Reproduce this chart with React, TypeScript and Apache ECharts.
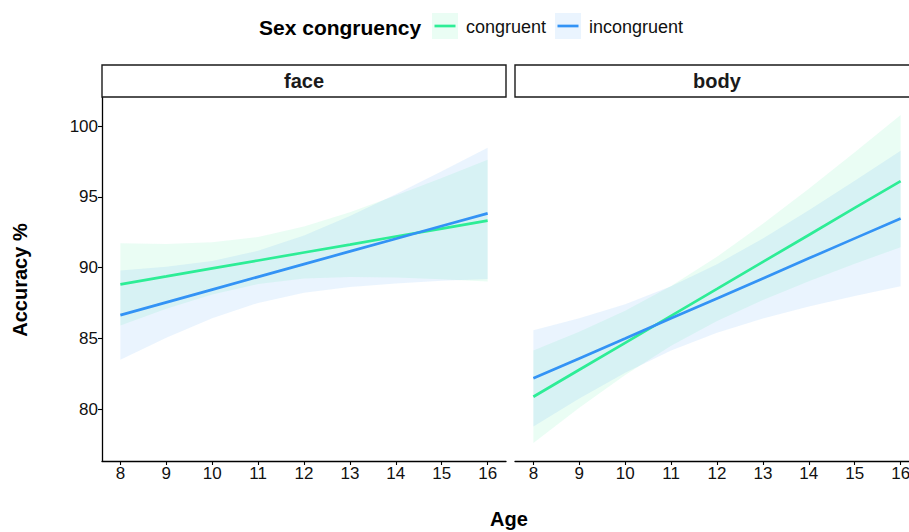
import React, { useEffect, useRef } from "react";
import * as echarts from "echarts";

// ---- data ----
const ages = [8, 9, 10, 11, 12, 13, 14, 15, 16];
const xTicks = [8, 9, 10, 11, 12, 13, 14, 15, 16];
const yTicks = [80, 85, 90, 95, 100];
const groups = ["congruent", "incongruent"];
const panels = ["face", "body"];

// face panel
const faceCongruentFit = [88.81, 89.37, 89.94, 90.5, 91.06, 91.62, 92.19, 92.75, 93.31];
const faceCongruentHi = [91.71, 91.66, 91.78, 92.16, 92.9, 93.91, 95.09, 96.33, 97.61];
const faceCongruentLo = [85.91, 87.08, 88.1, 88.84, 89.22, 89.33, 89.29, 89.17, 89.01];
const faceIncongruentFit = [86.64, 87.54, 88.44, 89.34, 90.24, 91.14, 92.03, 92.93, 93.83];
const faceIncongruentHi = [89.79, 90.05, 90.47, 91.18, 92.27, 93.65, 95.18, 96.8, 98.47];
const faceIncongruentLo = [83.49, 85.03, 86.41, 87.5, 88.21, 88.63, 88.88, 89.06, 89.19];

// body panel
const bodyCongruentFit = [80.87, 82.78, 84.68, 86.59, 88.49, 90.4, 92.3, 94.21, 96.11];
const bodyCongruentHi = [84.14, 85.47, 86.95, 88.7, 90.76, 93.09, 95.57, 98.15, 100.78];
const bodyCongruentLo = [77.6, 80.09, 82.41, 84.48, 86.22, 87.71, 89.03, 90.27, 91.44];
const bodyIncongruentFit = [82.17, 83.58, 84.99, 86.41, 87.82, 89.23, 90.65, 92.06, 93.47];
const bodyIncongruentHi = [85.57, 86.41, 87.41, 88.68, 90.24, 92.06, 94.05, 96.13, 98.26];
const bodyIncongruentLo = [78.77, 80.75, 82.57, 84.14, 85.4, 86.4, 87.25, 87.99, 88.68];

// ---- styles ----
const FONT = "'Liberation Sans', Arial, Helvetica, sans-serif";
const GREEN = "#2DED96";
const BLUE = "#3393F5";
const GREEN_FILL = "rgba(45,237,150,0.1)";
const BLUE_FILL = "rgba(51,147,245,0.1)";
const AXIS = "#000000";

const X_MIN = 7.6;
const X_MAX = 16.4;
const Y_MIN = 76.33;
const Y_MAX = 102.05;

const GRID_TOP = 97;
const GRID_H = 364;
const GRID_W = 404;
const GRID_LEFTS = [102, 515];

function ribbon(gridIdx: number, lo: number[], hi: number[], fill: string) {
  return {
    type: "custom",
    xAxisIndex: gridIdx,
    yAxisIndex: gridIdx,
    silent: true,
    z: 1,
    data: ages.map((a, i) => [a, lo[i], hi[i]]),
    encode: { x: 0, y: [1, 2] },
    renderItem: (params: any, api: any) => {
      if (params.dataIndex !== 0) return { type: "group", children: [] };
      const top = ages.map((a, i) => api.coord([a, hi[i]]));
      const bot = ages.map((a, i) => api.coord([a, lo[i]])).reverse();
      return {
        type: "polygon",
        shape: { points: [...top, ...bot] },
        style: { fill, stroke: "none" },
      };
    },
  };
}

function fitLine(gridIdx: number, name: string, fit: number[], color: string) {
  return {
    type: "line",
    name,
    xAxisIndex: gridIdx,
    yAxisIndex: gridIdx,
    data: ages.map((a, i) => [a, fit[i]]),
    symbol: "none",
    z: 3,
    lineStyle: { color, width: 2.7 },
    itemStyle: { color },
  };
}

export default function App() {
  const ref = useRef<HTMLDivElement>(null);

  useEffect(() => {
    if (!ref.current) return;
    const chart = echarts.init(ref.current, null, { renderer: "svg" });

    const xAxes = GRID_LEFTS.map((_, g) => ({
      type: "value",
      gridIndex: g,
      min: X_MIN,
      max: X_MAX,
      axisLine: { show: true, lineStyle: { color: AXIS, width: 1.3 } },
      axisTick: {
        show: true,
        length: 4,
        lineStyle: { color: AXIS, width: 1.1 },
        customValues: xTicks,
      },
      axisLabel: {
        show: true,
        color: "#111",
        fontSize: 17,
        fontFamily: FONT,
        margin: 4,
        customValues: xTicks,
      },
      splitLine: { show: false },
    }));

    const yAxes = GRID_LEFTS.map((_, g) => ({
      type: "value",
      gridIndex: g,
      min: Y_MIN,
      max: Y_MAX,
      axisLine: { show: g === 0, lineStyle: { color: AXIS, width: 1.3 } },
      axisTick: {
        show: g === 0,
        length: 4,
        lineStyle: { color: AXIS, width: 1.1 },
        customValues: yTicks,
      },
      axisLabel: {
        show: g === 0,
        color: "#111",
        fontSize: 17,
        fontFamily: FONT,
        margin: 4,
        customValues: yTicks,
      },
      splitLine: { show: false },
    }));

    const stripGraphics: any[] = [];
    panels.forEach((p, g) => {
      stripGraphics.push({
        type: "rect",
        shape: { x: GRID_LEFTS[g], y: 65, width: GRID_W, height: 32 },
        style: { fill: "#ffffff", stroke: "#1a1a1a", lineWidth: 1.4 },
        z: 10,
      });
      stripGraphics.push({
        type: "text",
        x: GRID_LEFTS[g] + GRID_W / 2,
        y: 81,
        style: {
          text: p,
          fontSize: 20,
          fontWeight: "bold",
          fontFamily: FONT,
          fill: "#1a1a1a",
          align: "center",
          verticalAlign: "middle",
        },
        z: 11,
      });
    });

    const legendGraphics: any[] = [
      {
        type: "text",
        x: 259,
        y: 27,
        style: {
          text: "Sex congruency",
          fontSize: 21,
          fontWeight: "bold",
          fontFamily: FONT,
          fill: "#000",
          verticalAlign: "middle",
        },
      },
    ];
    const keyXs = [432, 555];
    const labelXs = [466, 589];
    const keyColors = [GREEN, BLUE];
    const keyFills = [GREEN_FILL, BLUE_FILL];
    groups.forEach((gname, i) => {
      legendGraphics.push({
        type: "rect",
        shape: { x: keyXs[i], y: 13, width: 26, height: 26 },
        style: { fill: keyFills[i], stroke: "none" },
      });
      legendGraphics.push({
        type: "line",
        shape: { x1: keyXs[i] + 2.5, y1: 26, x2: keyXs[i] + 23.5, y2: 26 },
        style: { stroke: keyColors[i], lineWidth: 2.7 },
      });
      legendGraphics.push({
        type: "text",
        x: labelXs[i],
        y: 27,
        style: {
          text: gname,
          fontSize: 18,
          fontFamily: FONT,
          fill: "#111",
          verticalAlign: "middle",
        },
      });
    });

    const titleGraphics: any[] = [
      {
        type: "text",
        x: 509,
        y: 519,
        style: {
          text: "Age",
          fontSize: 20,
          fontWeight: "bold",
          fontFamily: FONT,
          fill: "#000",
          align: "center",
          verticalAlign: "middle",
        },
      },
      {
        type: "text",
        x: 20,
        y: 280,
        rotation: Math.PI / 2,
        style: {
          text: "Accuracy %",
          fontSize: 20,
          fontWeight: "bold",
          fontFamily: FONT,
          fill: "#000",
          align: "center",
          verticalAlign: "middle",
        },
      },
    ];

    chart.setOption({
      animation: false,
      backgroundColor: "#ffffff",
      grid: GRID_LEFTS.map((l) => ({
        left: l,
        top: GRID_TOP,
        width: GRID_W,
        height: GRID_H,
        containLabel: false,
        outerBoundsMode: "none",
      })),
      xAxis: xAxes,
      yAxis: yAxes,
      graphic: [...stripGraphics, ...legendGraphics, ...titleGraphics],
      series: [
        ribbon(0, faceCongruentLo, faceCongruentHi, GREEN_FILL),
        ribbon(0, faceIncongruentLo, faceIncongruentHi, BLUE_FILL),
        ribbon(1, bodyCongruentLo, bodyCongruentHi, GREEN_FILL),
        ribbon(1, bodyIncongruentLo, bodyIncongruentHi, BLUE_FILL),
        fitLine(0, groups[0], faceCongruentFit, GREEN),
        fitLine(0, groups[1], faceIncongruentFit, BLUE),
        fitLine(1, groups[0], bodyCongruentFit, GREEN),
        fitLine(1, groups[1], bodyIncongruentFit, BLUE),
      ],
    });

    return () => {
      chart.dispose();
    };
  }, []);

  return (
    <div
      ref={ref}
      style={{ position: "fixed", left: 0, top: 0, width: 909, height: 532, background: "#fff" }}
    />
  );
}
